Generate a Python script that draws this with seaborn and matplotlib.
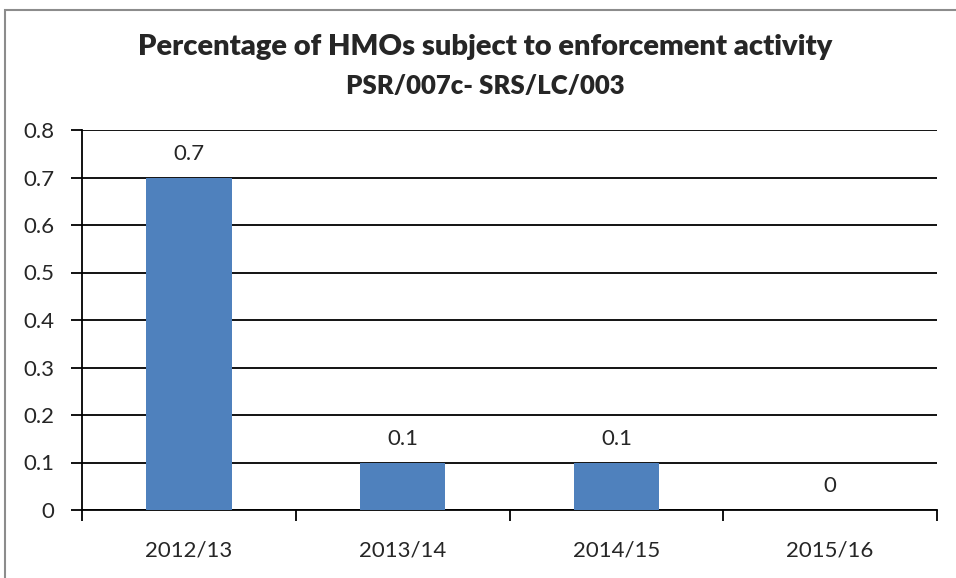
import matplotlib
matplotlib.use('Agg')
import matplotlib.pyplot as plt
import matplotlib.patches as mpatches
import seaborn as sns
import pandas as pd

# Chart data
years = ['2012/13', '2013/14', '2014/15', '2015/16']
values = [0.7, 0.1, 0.1, 0.0]
y_ticks = [0, 0.1, 0.2, 0.3, 0.4, 0.5, 0.6, 0.7, 0.8]
y_tick_labels = ['0', '0.1', '0.2', '0.3', '0.4', '0.5', '0.6', '0.7', '0.8']
bar_labels = ['0.7', '0.1', '0.1', '0']

df = pd.DataFrame({'year': years, 'value': values})

sns.set_style('white')
plt.rcParams['font.family'] = ['Lato', 'DejaVu Sans']

fig = plt.figure(figsize=(9.56, 5.78), dpi=100)
ax = fig.add_axes([82 / 956, 1 - 510 / 578, (937 - 82) / 956, (510 - 130) / 578])

sns.barplot(x='year', y='value', data=df, order=years, color='#4F81BD',
            width=0.4, ax=ax, zorder=3, saturation=1, linewidth=0, edgecolor='none')

# Value labels above bars
for p, lab in zip(ax.patches, bar_labels):
    ax.annotate(lab, (p.get_x() + p.get_width() / 2., p.get_height()),
                ha='center', va='bottom', xytext=(0, 10), textcoords='offset points',
                fontsize=16)

ax.set_ylim(0, 0.8)
ax.set_xlim(-0.5, 3.5)
ax.set_yticks(y_ticks)
ax.set_yticklabels(y_tick_labels, fontsize=16)
ax.yaxis.grid(True, color='black', linewidth=1.3, zorder=0)
ax.set_axisbelow(True)

# x ticks at category boundaries
ax.tick_params(axis='x', which='major', length=0, labelsize=16, pad=22, bottom=True)
ax.set_xticks([-0.5, 0.5, 1.5, 2.5, 3.5], minor=True)
ax.tick_params(axis='x', which='minor', length=8, width=1.3, color='black',
               direction='out', bottom=True)
ax.tick_params(axis='y', length=8, width=1.3, color='black', direction='out',
               pad=12, left=True)

ax.set_xlabel('')
ax.set_ylabel('')
for side in ['top', 'right']:
    ax.spines[side].set_visible(False)
for side in ['left', 'bottom']:
    ax.spines[side].set_color('black')
    ax.spines[side].set_linewidth(1.3)

# Titles
fig.text(485 / 956, 1 - 47 / 578, 'Percentage of HMOs subject to enforcement activity',
         ha='center', va='center', fontsize=21, fontweight='heavy')
fig.text(485 / 956, 1 - 86 / 578, 'PSR/007c- SRS/LC/003',
         ha='center', va='center', fontsize=18.5, fontweight='heavy')

# Chart area border
border = mpatches.Rectangle((5 / 956, -0.05), 1.0, 1 - 10 / 578 + 0.05,
                            transform=fig.transFigure, fill=False,
                            edgecolor='#8c8c8c', linewidth=1.5)
fig.patches.append(border)

plt.savefig('out.png', dpi=100)
plt.close()
